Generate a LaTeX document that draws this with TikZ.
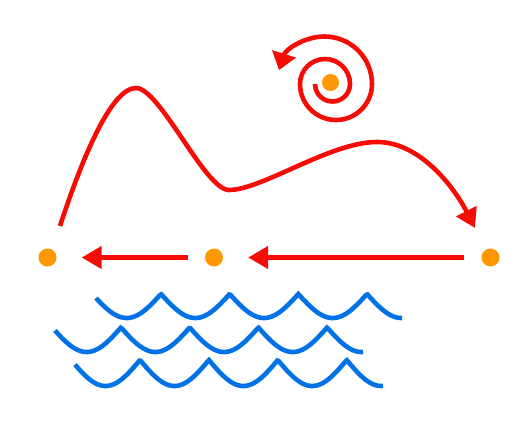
\documentclass[tikz,border=0pt]{standalone}
\usetikzlibrary{arrows.meta}
\definecolor{myred}{RGB}{245,12,5}
\definecolor{myorange}{RGB}{255,152,0}
\definecolor{myblue}{RGB}{0,114,229}
\tikzset{
  dot/.style={circle,fill=myorange,inner sep=0pt,minimum size=18pt},
  redline/.style={draw=myred,line width=4.6pt},
  arr/.style={redline,-{Triangle[length=20pt,width=22pt]},shorten <=17pt,shorten >=25pt},
  wave/.style={draw=myblue,line width=4.6pt},
}
\begin{document}
\begin{tikzpicture}[x=1pt,y=-1pt]
\useasboundingbox (0,0) rectangle (523,439);
% dots
\node[dot] (d1) at (47.5,257.5) {};
\node[dot] (d2) at (214,257.5) {};
\node[dot] (d3) at (490.5,257.5) {};
\node[dot,minimum size=17pt] (sp) at (330.5,82.5) {};
% straight arrows
\draw[arr] (d2) -- (d1);
\draw[arr] (d3) -- (d2);
% main curve
\coordinate (c0) at (60,226);
\coordinate (c1) at (136,88);
\coordinate (c2) at (229,190);
\coordinate (c3) at (377,142);
\coordinate (c4) at (475,228);
\draw[redline,-{Triangle[length=19pt,width=22pt]}]
  (c0) .. controls (80,165) and (110,88) .. (c1)
       .. controls (160,88) and (205,190) .. (c2)
       .. controls (262,190) and (330,142) .. (c3)
       .. controls (420,142) and (454,187) .. (c4);
% spiral
\coordinate (s0) at (315,84);
\draw[redline,-{Triangle[length=17pt,width=24pt]}] (s0)
  arc[start angle=180,end angle=0,radius=17.5]
  arc[start angle=360,end angle=180,radius=25]
  arc[start angle=180,end angle=0,radius=36]
  arc[start angle=360,end angle=197,radius=47.5];
% waves
\draw[wave] plot[domain=96:402,samples=240] (\x,{294+24*abs(sin(2.6212*(\x-161)))});
\draw[wave] plot[domain=55:363,samples=240] (\x,{327.5+24.5*abs(sin(2.6201*(\x-121)))});
\draw[wave] plot[domain=75:383,samples=240] (\x,{360+26*abs(sin(2.6125*(\x-140)))});
\end{tikzpicture}
\end{document}
